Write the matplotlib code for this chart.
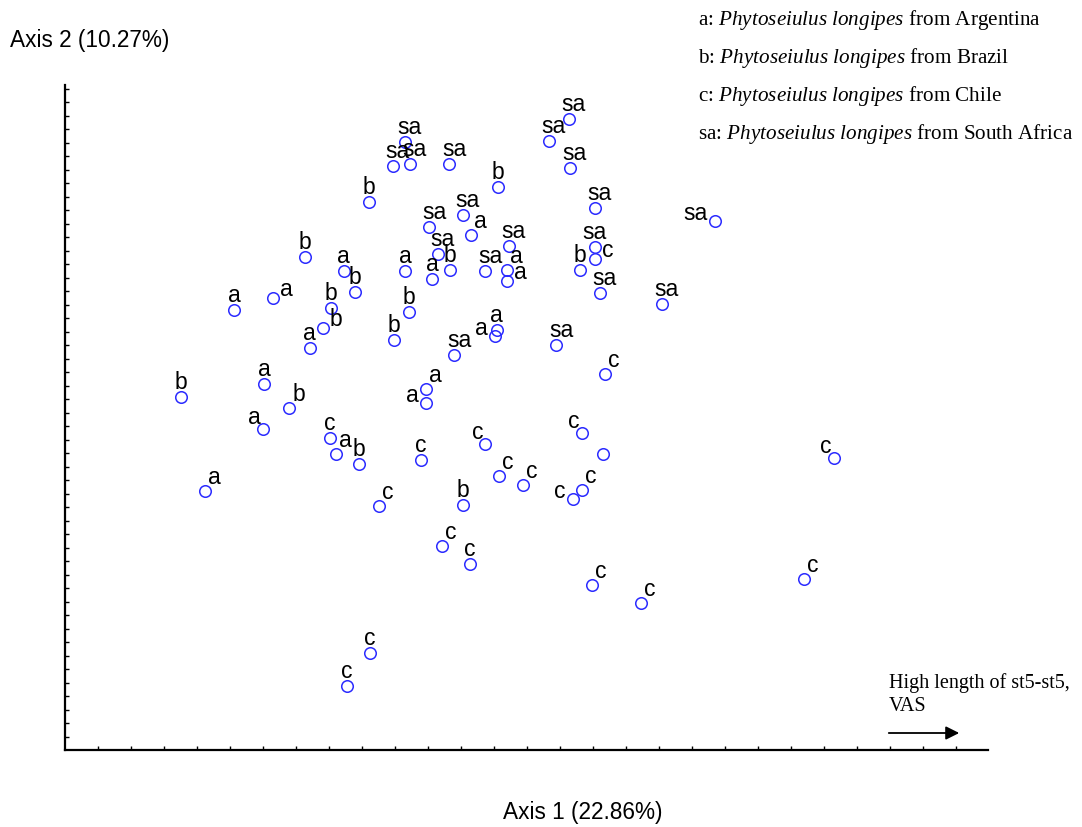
import matplotlib.pyplot as plt

plt.rcParams['font.family'] = ['Liberation Sans', 'DejaVu Sans']
plt.rcParams['mathtext.fontset'] = 'custom'
plt.rcParams['mathtext.rm'] = 'Liberation Serif'
plt.rcParams['mathtext.it'] = 'Liberation Serif:italic'

# scores on axis 1 / axis 2 (in tick units)
arg_x = [5.12, 6.30, 8.45, 10.30, 11.12, 7.42, 12.30, 13.39, 13.39, 13.08, 13.02,
         6.03, 5.99, 10.94, 10.94, 8.21, 4.23]
arg_y = [32.59, 33.48, 35.48, 35.48, 34.89, 29.78, 38.15, 35.56, 34.74, 31.11, 30.67,
         27.11, 23.78, 26.74, 25.70, 21.93, 19.19]

bra_x = [9.21, 7.26, 8.79, 8.06, 7.82, 10.42, 9.97, 11.66, 13.12, 15.60, 3.51,
         6.79, 8.91, 12.06]
bra_y = [40.59, 36.52, 33.93, 32.74, 31.26, 32.44, 30.37, 35.56, 41.70, 35.56, 26.15,
         25.33, 21.19, 18.15]

chi_x = [16.06, 16.36, 8.03, 10.78, 12.74, 9.51, 11.42, 12.26, 9.24, 8.55, 15.66,
         16.30, 13.15, 13.88, 15.39, 15.66, 15.97, 17.45, 23.30, 22.39]
chi_y = [36.37, 27.85, 23.11, 21.48, 22.67, 18.07, 15.11, 13.81, 7.19, 4.74, 23.48,
         21.93, 20.30, 19.63, 18.59, 19.26, 12.22, 10.89, 21.63, 12.67]

saf_x = [10.30, 9.93, 10.45, 11.64, 11.03, 12.06, 11.30, 15.26, 14.66, 15.30, 16.06,
         19.70, 13.45, 12.73, 16.06, 16.21, 18.08, 14.88, 11.79]
saf_y = [45.04, 43.26, 43.41, 43.41, 38.74, 39.63, 36.74, 46.74, 45.11, 43.11, 40.15,
         39.19, 37.33, 35.48, 37.26, 33.85, 33.04, 30.00, 29.26]

# where each letter sits relative to its circle ('' = no letter)
arg_pos = ['N', 'E', 'N', 'N', 'N', 'N', 'NE', 'NE', 'E', 'N', 'W',
           'N', 'NW', 'NE', 'W', 'NE', 'NE']
bra_pos = ['N', 'N', 'N', 'N', 'E', 'N', 'N', 'N', 'N', 'N', 'N', 'NE', 'N', 'N']
chi_pos = ['E', 'NE', 'N', 'N', 'NW', 'NE', 'NE', 'N', 'N', 'N', 'NW',
           '', 'NE', 'NE', 'W', 'NE', 'NE', 'NE', 'NW', 'NE']
saf_pos = ['NR', 'NR', 'NR', 'NR', 'NR', 'NR', 'NR', 'NR', 'NR', 'NR', 'NR',
           'W', 'NR', 'NR', 'N', 'NR', 'NR', 'NR', 'NR']

groups = [('a', arg_x, arg_y, arg_pos),
          ('b', bra_x, bra_y, bra_pos),
          ('c', chi_x, chi_y, chi_pos),
          ('sa', saf_x, saf_y, saf_pos)]

legend_lines = [('a', 'Argentina'), ('b', 'Brazil'), ('c', 'Chile'), ('sa', 'South Africa')]

# label offsets in pixels: dx, dy (baseline above centre), alignment
offs = {'N': (0, 8, 'center'), 'NR': (5, 8, 'center'),
        'NE': (3, 7, 'left'), 'E': (7, 2, 'left'),
        'NW': (-2, 5, 'right'), 'W': (-7, 1, 'right')}

fig = plt.figure(figsize=(10.82, 8.27), dpi=100)
ax = fig.add_axes([65/1082, 77/827, 923/1082, 665/827])

for lab, xs, ys, pos in groups:
    ax.plot(xs, ys, 'o', ms=8.3, mfc='none', mec='#2b2bff', mew=1.1)
    for x, y, p in zip(xs, ys, pos):
        if not p:
            continue
        dx, dy, ha = offs[p]
        ax.annotate(lab, (x, y), xytext=(dx, dy), textcoords='offset pixels',
                    ha=ha, va='baseline', fontsize=16.5, color='black')

ax.set_xlim(0, 923/33)
ax.set_ylim(0, 665/13.5)
ax.set_xticks(range(1, 28))
ax.set_yticks(range(1, 50))
ax.tick_params(direction='in', length=3, width=1, labelbottom=False, labelleft=False)
for s in ['top', 'right']:
    ax.spines[s].set_visible(False)
for s in ['left', 'bottom']:
    ax.spines[s].set_linewidth(1.6)

fig.text(10/1082, 1 - 47/827, 'Axis 2 (10.27%)', fontsize=16.3, ha='left', va='baseline')
fig.text(583/1082, 8/827, 'Axis 1 (22.86%)', fontsize=16.3, ha='center', va='baseline')

for i, (lab, country) in enumerate(legend_lines):
    fig.text(698/1082, 1 - (25 + 38*i)/827,
             lab + r': $\mathit{Phytoseiulus\ longipes}$ from ' + country,
             fontsize=15.2, family='Liberation Serif', ha='left', va='baseline')

fig.text(889/1082, 1 - 688/827, 'High length of st5-st5,', fontsize=14.5,
         family='Liberation Serif', ha='left', va='baseline')
fig.text(889/1082, 1 - 711/827, 'VAS', fontsize=14.5,
         family='Liberation Serif', ha='left', va='baseline')
ax.annotate('', xy=(962, 827-733), xytext=(886, 827-733),
            xycoords='figure pixels', textcoords='figure pixels',
            arrowprops=dict(arrowstyle='-|>', color='black', lw=1.3, mutation_scale=20))

fig.savefig('out.png', dpi=100)
